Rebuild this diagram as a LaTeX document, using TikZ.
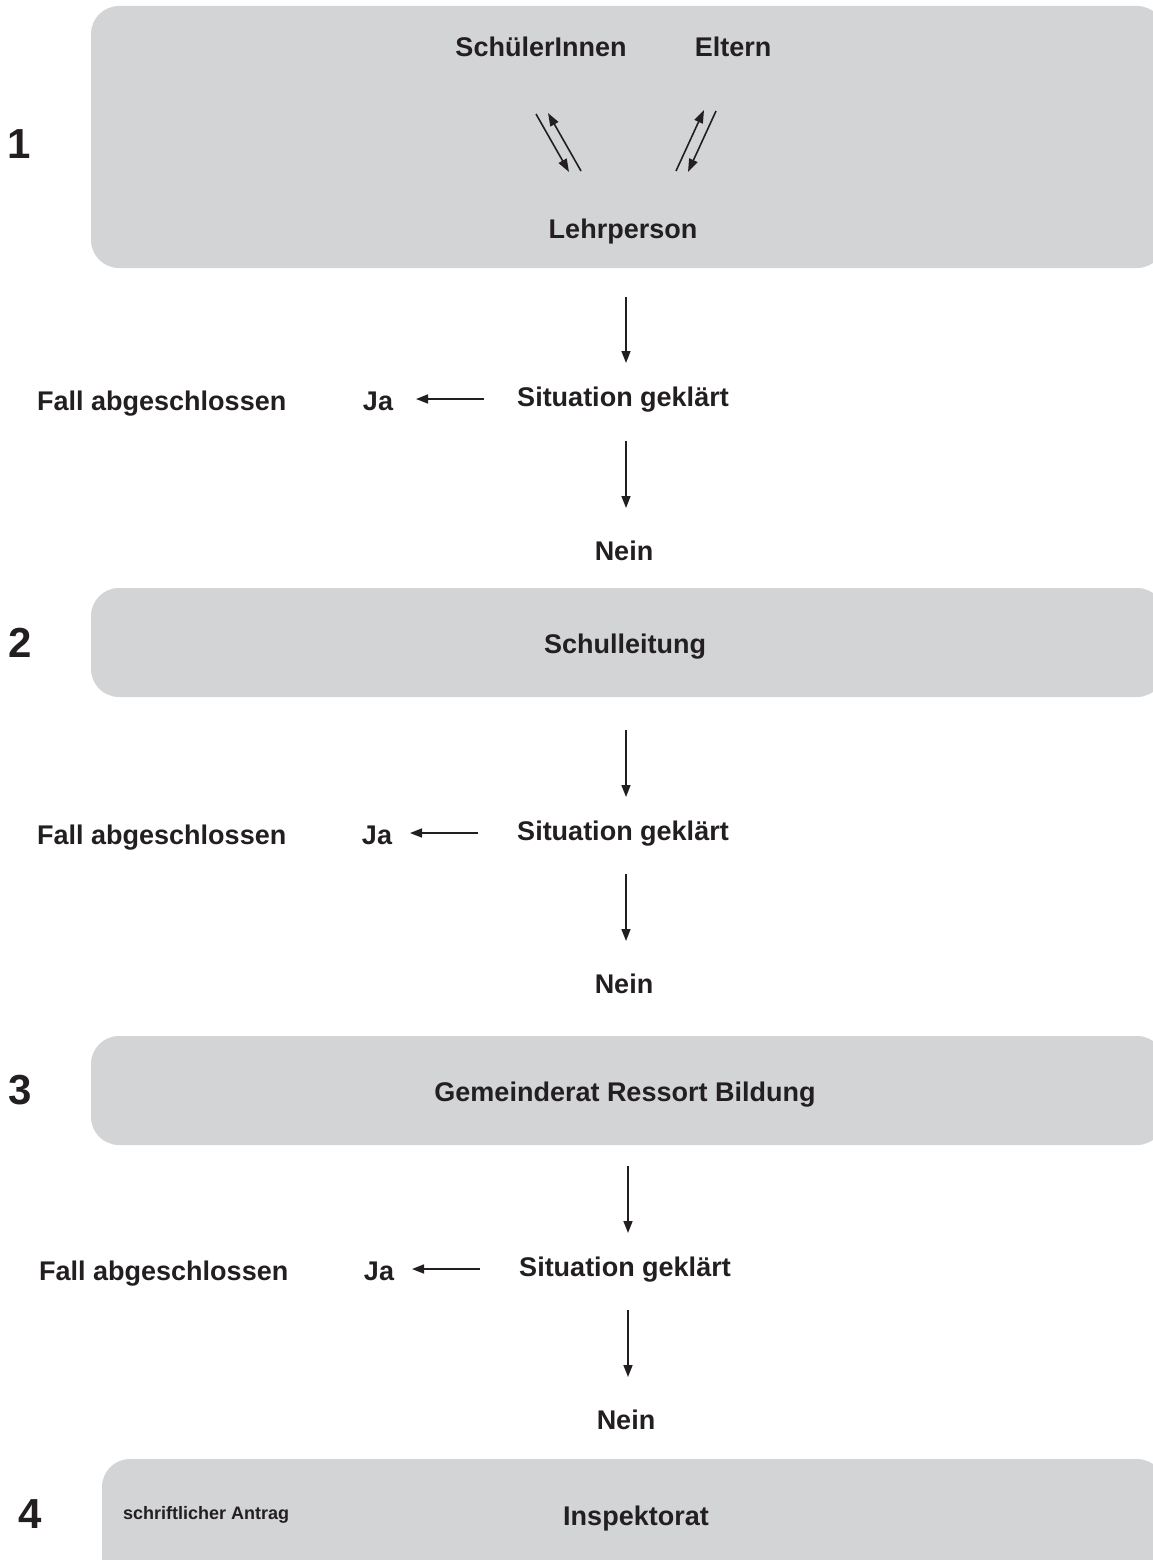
\documentclass[tikz,border=0pt]{standalone}
\usepackage{fontspec}
\setmainfont{Liberation Sans}
\usetikzlibrary{arrows.meta}
\definecolor{boxgray}{HTML}{D3D4D6}
\definecolor{ink}{HTML}{231F20}
\begin{document}
\begin{tikzpicture}[x=1pt,y=-1pt,
  box/.style={fill=boxgray, draw=none, rounded corners=28pt, inner sep=0pt},
  lbl/.style={font=\fontsize{27}{32}\selectfont\bfseries, text=ink, inner sep=0pt, anchor=base},
  lblw/.style={lbl, anchor=base west},
  num/.style={font=\fontsize{42}{48}\selectfont\bfseries, text=ink, inner sep=0pt, anchor=base},
  smalllbl/.style={font=\fontsize{18}{22}\selectfont\bfseries, text=ink, inner sep=0pt, anchor=base west},
  arr/.style={draw=ink, line width=1.6pt, -{Triangle[length=12pt,width=9pt]}},
  darr/.style={draw=ink, line width=1.6pt, -{Triangle[length=13pt,width=9pt]}},
]
\useasboundingbox (0,0) rectangle (1152,1560);

% boxes
\node[box, minimum width=1074pt, minimum height=262pt] (b1) at (628,137) {};
\node[box, minimum width=1074pt, minimum height=109pt] (b2) at (628,642.5) {};
\node[box, minimum width=1074pt, minimum height=109pt] (b3) at (628,1090.5) {};
\node[box, minimum width=1063pt, minimum height=131pt] (b4) at (633.5,1524.5) {};

% numbers
\node[num] (n1) at (19,158) {1};
\node[num] (n2) at (20,657) {2};
\node[num] (n3) at (20,1104) {3};
\node[num] (n4) at (30,1528) {4};

% box 1 contents
\node[lbl] (sch) at (541,57) {SchülerInnen};
\node[lbl] (elt) at (733,57) {Eltern};
\node[lbl] (leh) at (623,238) {Lehrperson};
\coordinate (d1a) at (536,114);
\coordinate (d1b) at (569,172);
\coordinate (d2a) at (581,171);
\coordinate (d2b) at (548,113);
\coordinate (d3a) at (676,171);
\coordinate (d3b) at (704,110);
\coordinate (d4a) at (716,111);
\coordinate (d4b) at (688,172);
\draw[darr] (d1a) -- (d1b);
\draw[darr] (d2a) -- (d2b);
\draw[darr] (d3a) -- (d3b);
\draw[darr] (d4a) -- (d4b);

% level 1 decision
\node[lbl] (sit1) at (623,406) {Situation geklärt};
\node[lbl] (ja1) at (378,410) {Ja};
\node[lblw] (fall1) at (37,410) {Fall abgeschlossen};
\node[lbl] (nein1) at (624,560) {Nein};
\coordinate (v1a) at (626,297);
\coordinate (v1b) at (626,363);
\coordinate (v2a) at (626,441);
\coordinate (v2b) at (626,508);
\coordinate (h1a) at (484,399);
\coordinate (h1b) at (416,399);
\draw[arr] (v1a) -- (v1b);
\draw[arr] (v2a) -- (v2b);
\draw[arr] (h1a) -- (h1b);

% box 2
\node[lbl] (schul) at (625,653) {Schulleitung};

% level 2 decision
\node[lbl] (sit2) at (623,840) {Situation geklärt};
\node[lbl] (ja2) at (377,844) {Ja};
\node[lblw] (fall2) at (37,844) {Fall abgeschlossen};
\node[lbl] (nein2) at (624,993) {Nein};
\coordinate (v3a) at (626,730);
\coordinate (v3b) at (626,797);
\coordinate (v4a) at (626,874);
\coordinate (v4b) at (626,941);
\coordinate (h2a) at (478,833);
\coordinate (h2b) at (410,833);
\draw[arr] (v3a) -- (v3b);
\draw[arr] (v4a) -- (v4b);
\draw[arr] (h2a) -- (h2b);

% box 3
\node[lbl] (gem) at (625,1101) {Gemeinderat Ressort Bildung};

% level 3 decision
\node[lbl] (sit3) at (625,1276) {Situation geklärt};
\node[lbl] (ja3) at (379,1280) {Ja};
\node[lblw] (fall3) at (39,1280) {Fall abgeschlossen};
\node[lbl] (nein3) at (626,1429) {Nein};
\coordinate (v5a) at (628,1166);
\coordinate (v5b) at (628,1233);
\coordinate (v6a) at (628,1310);
\coordinate (v6b) at (628,1377);
\coordinate (h3a) at (480,1269);
\coordinate (h3b) at (412,1269);
\draw[arr] (v5a) -- (v5b);
\draw[arr] (v6a) -- (v6b);
\draw[arr] (h3a) -- (h3b);

% box 4
\node[smalllbl] (antrag) at (123,1519) {schriftlicher Antrag};
\node[lbl] (insp) at (636,1525) {Inspektorat};
\end{tikzpicture}
\end{document}
